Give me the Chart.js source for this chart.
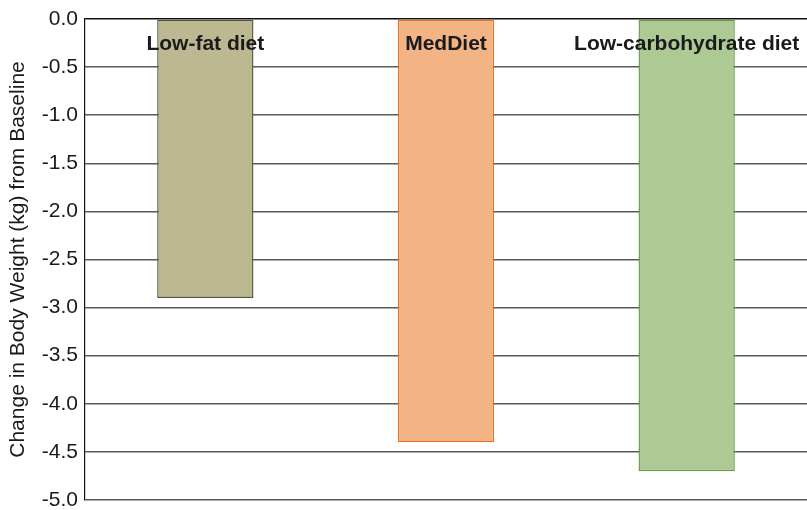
<!DOCTYPE html>
<html>
<head>
<meta charset="utf-8">
<script src="https://cdn.jsdelivr.net/npm/chart.js@4.4.1/dist/chart.umd.min.js"></script>
<style>
  html, body { margin: 0; padding: 0; background: #ffffff; }
  #wrap { width: 807px; height: 510px; }
</style>
</head>
<body>
<div id="wrap"><canvas id="chart" width="807" height="510"></canvas></div>
<script>
// Diet groups and mean weight change from baseline (kg)
const diets = ["Low-fat diet", "MedDiet", "Low-carbohydrate diet"];
const weightChange = [-2.9, -4.4, -4.7];
const fillColors = ["#bcb892", "#f2b385", "#adc994"];
const edgeColors = ["#55533a", "#ef7020", "#6a954c"];
const yTicks = [0, -0.5, -1, -1.5, -2, -2.5, -3, -3.5, -4, -4.5, -5];

const FONT = "'Liberation Sans', Arial, sans-serif";

// Writes each diet name across the top of its bar
const dietLabels = {
  id: "dietLabels",
  afterDatasetsDraw(chart) {
    const { ctx, scales } = chart;
    ctx.save();
    ctx.font = "bold 21px " + FONT;
    ctx.fillStyle = "#1a1a1a";
    ctx.textAlign = "center";
    ctx.textBaseline = "alphabetic";
    diets.forEach((name, i) => {
      ctx.fillText(name, scales.x.getPixelForValue(i), scales.y.getPixelForValue(-0.32));
    });
    ctx.restore();
  }
};

new Chart(document.getElementById("chart"), {
  type: "bar",
  data: {
    labels: diets,
    datasets: [{
      data: weightChange,
      backgroundColor: fillColors,
      borderColor: edgeColors,
      borderWidth: 1.4,
      borderSkipped: false,
      categoryPercentage: 1.0,
      barPercentage: 0.4
    }]
  },
  options: {
    responsive: false,
    animation: false,
    layout: { padding: { top: 19, right: 0, bottom: 10, left: 0 } },
    plugins: { legend: { display: false }, tooltip: { enabled: false } },
    scales: {
      x: {
        display: false
      },
      y: {
        min: -5,
        max: 0,
        afterBuildTicks(scale) { scale.ticks = yTicks.map(v => ({ value: v })); },
        afterFit(scale) {
          scale.width = 85;
          scale.paddingTop = 0;
          scale.paddingBottom = 0;
        },
        ticks: {
          callback: v => v.toFixed(1),
          color: "#1a1a1a",
          padding: 7,
          font: { family: FONT, size: 21 }
        },
        grid: {
          color: ctx => (ctx.tick && ctx.tick.value === 0 ? "#111111" : "#5a5a5a"),
          lineWidth: 1.4,
          drawTicks: false
        },
        border: { display: true, color: "#111111", width: 1.2 },
        title: {
          display: true,
          text: "Change in Body Weight (kg) from Baseline",
          color: "#1a1a1a",
          padding: { top: 6, bottom: 0 },
          font: { family: FONT, size: 21 }
        }
      }
    }
  },
  plugins: [dietLabels]
});
</script>
</body>
</html>
